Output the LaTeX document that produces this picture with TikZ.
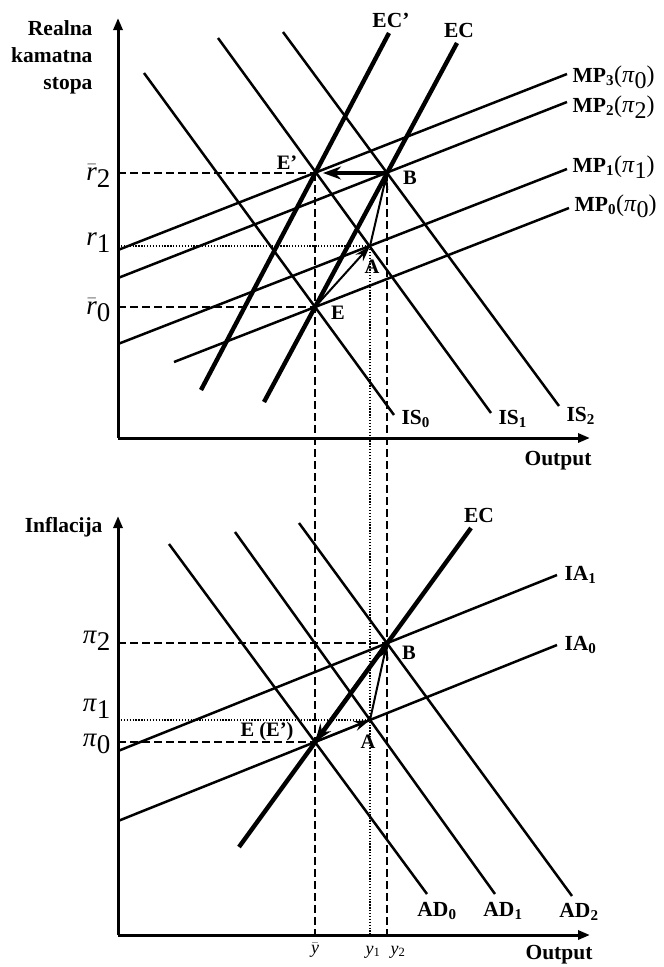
\documentclass[tikz,border=0pt]{standalone}
\usepackage{fontspec}
\setmainfont{Liberation Serif}
\usepackage{tikz}
\usetikzlibrary{arrows.meta,positioning,calc}
\newcommand{\lowsub}[2]{#1\raisebox{-0.55ex}{#2}}
\newcommand{\rbar}{$\bar{\hbox{\itshape r}}$}
\newcommand{\mplab}[2]{MP\textsubscript{#1}{\mdseries\fontsize{24}{24}\selectfont(\lowsub{\textit{π}}{#2})}}
\tikzset{
  curve/.style={line width=2.5pt},
  eccurve/.style={line width=4.4pt},
  axis/.style={line width=3pt,-{Triangle[length=12pt,width=9pt]}},
  guide/.style={line width=1.2pt,dash pattern=on 8pt off 4pt},
  dotguide/.style={line width=1.3pt,dash pattern=on 1.3pt off 1.6pt},
  move/.style={line width=2pt,-{Stealth[length=16pt,width=10pt]}},
  bigmove/.style={line width=4pt,-{Stealth[length=18pt,width=13pt]}},
  lab/.style={font=\fontsize{21.5}{27}\selectfont\bfseries},
  ptlab/.style={font=\fontsize{20.5}{22}\selectfont\bfseries},
  ticklab/.style={font=\fontsize{27}{27}\selectfont,anchor=east}
}

\begin{document}
\begin{tikzpicture}[x=1pt,y=-1pt]
  \useasboundingbox (0,0) rectangle (664,967);
  % key points, upper panel
  \coordinate (E) at (315,307);
  \coordinate (A) at (370,246);
  \coordinate (B) at (387,173);
  \coordinate (Ep) at (315,173);
  % key points, lower panel
  \coordinate (Eb) at (315,742);
  \coordinate (Ab) at (370,720);
  \coordinate (Bb) at (387,643);
  % axes
  \coordinate (O1) at (118,438);
  \coordinate (O2) at (118,935);
  \draw[axis] (O1) -- (118,18);
  \draw[axis] (O1) -- (590,438);
  \draw[axis] (O2) -- (118,516);
  \draw[axis] (O2) -- (590,935);
  \node[lab,align=right,anchor=east] (ylab1) at (96,57) {Realna\\kamatna\\stopa};
  \node[lab] (xlab1) at (558,461) {Output};
  \node[lab,anchor=east] (ylab2) at (106,527) {Inflacija};
  \node[lab] (xlab2) at (559,955) {Output};
  % guides
  \draw[guide] (118,173) -- (Ep);
  \draw[dotguide] (118,246) -- (A);
  \draw[guide] (118,307) -- (E);
  \draw[guide] (118,643) -- (Bb);
  \draw[dotguide] (118,720) -- (Ab);
  \draw[guide] (118,742) -- (Eb);
  \draw[guide] (Ep) -- (315,935);
  \draw[guide] (B) -- (387,935);
  \draw[dotguide] (A) -- (370,935);
  \node[ticklab] (r2) at (114,176) {\lowsub{\rbar}{2}};
  \node[ticklab] (r1) at (114,243) {\lowsub{\textit{r}}{1}};
  \node[ticklab] (r0) at (114,310) {\lowsub{\rbar}{0}};
  \node[ticklab] (p2) at (114,641) {\lowsub{\textit{π}}{2}};
  \node[ticklab] (p1) at (114,709) {\lowsub{\textit{π}}{1}};
  \node[ticklab] (p0) at (114,744) {\lowsub{\textit{π}}{0}};
  \node[font=\fontsize{18}{18}\selectfont] (yb) at (315,950) {$\bar{\hbox{\itshape y}}$};
  \node[font=\fontsize{18}{18}\selectfont] (y1) at (373,952) {\textit{y}\textsubscript{1}};
  \node[font=\fontsize{18}{18}\selectfont] (y2) at (398,952) {\textit{y}\textsubscript{2}};
  % IS curves
  \draw[curve] (144,73) -- (394,415) node[lab,anchor=west,xshift=3pt,yshift=-4pt] (is0) {IS\textsubscript{0}};
  \draw[curve] (218,38) -- (491,413) node[lab,anchor=west,xshift=3pt,yshift=-6pt] (is1) {IS\textsubscript{1}};
  \draw[curve] (283,32) -- (559,406) node[lab,anchor=west,xshift=3pt,yshift=-10pt] (is2) {IS\textsubscript{2}};
  % MP curves
  \draw[curve] (118,250) -- (567,74) node[lab,anchor=west,xshift=1pt,yshift=-3pt] (mp3) {\mplab{3}{0}};
  \draw[curve] (118,278) -- (567,102) node[lab,anchor=west,xshift=1pt,yshift=-5pt] (mp2) {\mplab{2}{2}};
  \draw[curve] (118,344) -- (567,169) node[lab,anchor=west,xshift=1pt,yshift=2pt] (mp1) {\mplab{1}{1}};
  \draw[curve] (174,362) -- (569,208) node[lab,anchor=west,xshift=1pt,yshift=2pt] (mp0) {\mplab{0}{0}};
  % EC curves
  \draw[eccurve] (201,390) -- (389,33) node[lab,anchor=south,xshift=2pt] (ecp) {EC’};
  \draw[eccurve] (264,402) -- (457,43) node[lab,anchor=south,xshift=2pt] (ec1) {EC};
  % AD curves
  \draw[curve] (169,544) -- (427,894) node[lab,anchor=north,xshift=10pt,yshift=-4pt] (ad0) {AD\textsubscript{0}};
  \draw[curve] (235,532) -- (495,894) node[lab,anchor=north,xshift=8pt,yshift=-4pt] (ad1) {AD\textsubscript{1}};
  \draw[curve] (299,523) -- (572,896) node[lab,anchor=north,xshift=7pt,yshift=-3pt] (ad2) {AD\textsubscript{2}};
  % IA curves
  \draw[curve] (118,751) -- (557,575) node[lab,anchor=west,xshift=3pt] (ia1) {IA\textsubscript{1}};
  \draw[curve] (118,821) -- (557,645) node[lab,anchor=west,xshift=3pt] (ia0) {IA\textsubscript{0}};
  \draw[eccurve] (239,847) -- (471,528) node[lab,anchor=south,xshift=8pt] (ec2) {EC};
  % adjustment paths
  \draw[move] (E) -- (A);
  \draw[move] (A) -- (B);
  \draw[bigmove,shorten >=8pt] (B) -- (Ep);
  \draw[move] (Eb) -- (Ab);
  \draw[move] (Ab) -- (Bb);
  \draw[bigmove] (Bb) -- (Eb);
  % point labels
  \node[ptlab] (lEp) at (287,163) {E’};
  \node[ptlab] (lB) at (410,178) {B};
  \node[ptlab] (lA) at (372,267) {A};
  \node[ptlab] (lE) at (338,313) {E};
  \node[ptlab] (lEb) at (267,732) {E (E’)};
  \node[ptlab] (lBb) at (409,653) {B};
  \node[ptlab] (lAb) at (368,742) {A};
\end{tikzpicture}
\end{document}
